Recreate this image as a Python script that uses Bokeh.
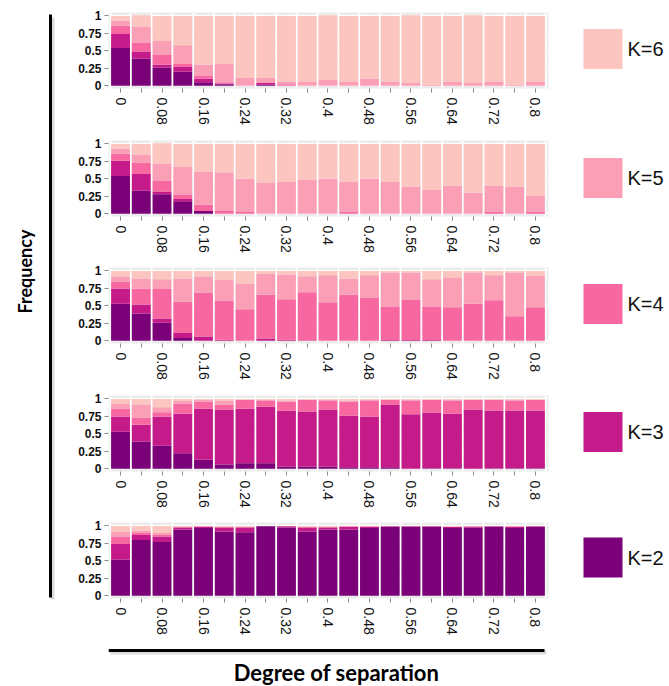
import math
from bokeh.plotting import figure
from bokeh.layouts import row, column
from bokeh.models import ColumnDataSource, Range1d, FixedTicker, NumeralTickFormatter
from bokeh.core.properties import value
from bokeh.embed import file_html
from bokeh.resources import INLINE

# ---------------- data ----------------
separation = ["0", "0.04", "0.08", "0.12", "0.16", "0.2", "0.24", "0.28", "0.32", "0.36", "0.4",
              "0.44", "0.48", "0.52", "0.56", "0.6", "0.64", "0.68", "0.72", "0.76", "0.8"]
k_labels = ["K=2", "K=3", "K=4", "K=5", "K=6"]
y_ticks = [0, 0.25, 0.5, 0.75, 1]

# panel 1 (top)
p1_k2 = [.54, .39, .26, .20, .05, .02, 0, .015, 0, 0, 0, 0, 0, 0, 0, 0, 0, 0, 0, 0, 0]
p1_k3 = [.20, .10, .04, .07, .05, .01, 0, .025, 0, 0, 0, 0, 0, 0, 0, 0, 0, 0, 0, 0, 0]
p1_k4 = [.12, .13, .14, .04, .04, .02, 0, 0, .02, 0, 0, 0, 0, 0, 0, 0, 0, 0, 0, 0, 0]
p1_k5 = [.07, .23, .20, .27, .16, .26, .11, .075, .04, .06, .09, .06, .10, .06, .04, .015, .06, .045, .06, .015, .06]
p1_k6 = [.07, .16, .36, .42, .70, .69, .89, .885, .94, .94, .92, .94, .90, .94, .97, .985, .94, .965, .94, .985, .94]

# panel 2
p2_k2 = [.54, .33, .28, .18, .04, 0, 0, 0, 0, 0, 0, 0, 0, 0, 0, 0, 0, 0, 0, 0, 0]
p2_k3 = [.22, .24, .04, .03, 0, 0, 0, 0, 0, 0, 0, 0, 0, 0, 0, 0, 0, 0, 0, 0, 0]
p2_k4 = [.10, .16, .15, .06, .09, .04, .025, 0, 0, 0, 0, .03, 0, 0, 0, 0, 0, 0, .03, 0, .03]
p2_k5 = [.07, .12, .25, .40, .47, .55, .475, .44, .46, .49, .50, .43, .50, .46, .385, .34, .40, .30, .37, .385, .225]
p2_k6 = [.07, .15, .29, .33, .40, .41, .50, .56, .54, .51, .50, .54, .50, .54, .615, .66, .60, .70, .60, .615, .745]

# panel 3
p3_k2 = [.53, .39, .26, .04, 0, 0, 0, 0, 0, 0, 0, 0, 0, 0, 0, 0, 0, 0, 0, 0, 0]
p3_k3 = [.22, .13, .06, .07, .06, .015, 0, .03, .015, .005, 0, 0, 0, .01, .01, .01, 0, 0, 0, 0, 0]
p3_k4 = [.10, .23, .42, .45, .63, .56, .45, .63, .58, .69, .55, .66, .62, .48, .58, .48, .48, .53, .58, .35, .48]
p3_k5 = [.07, .14, .14, .33, .23, .30, .37, .30, .35, .23, .39, .23, .32, .49, .39, .39, .42, .45, .36, .63, .45]
p3_k6 = [.08, .11, .12, .11, .08, .125, .18, .04, .055, .075, .06, .11, .06, .02, .02, .12, .10, .02, .06, .02, .07]

# panel 4
p4_k2 = [.53, .39, .33, .22, .13, .06, .08, .08, .03, .03, .03, .02, .02, .02, 0, .005, .005, 0, .005, .005, .005]
p4_k3 = [.22, .24, .42, .57, .73, .79, .78, .81, .80, .79, .82, .74, .73, .90, .78, .80, .785, .85, .83, .83, .83]
p4_k4 = [.11, .10, .06, .14, .10, .07, .13, .09, .13, .17, .13, .20, .23, .07, .20, .185, .19, .14, .155, .145, .155]
p4_k5 = [.07, .19, .07, .04, .03, .06, 0, .01, .02, 0, .01, .02, .01, 0, .01, 0, .01, 0, 0, .01, 0]
p4_k6 = [.07, .08, .12, .03, .01, .02, .01, .01, .02, .01, .01, .02, .01, .01, .01, .01, .01, .01, .01, .01, .01]

# panel 5 (bottom)
p5_k2 = [.52, .80, .77, .95, .97, .92, .91, .995, .98, .92, .95, .95, .97, .985, .985, .985, .97, .975, .985, .97, .985]
p5_k3 = [.22, .07, .08, .03, .02, .06, .07, .005, .015, .06, .03, .035, .02, .01, .01, .01, .015, .015, .01, .02, .01]
p5_k4 = [.11, .03, .02, .01, .005, .01, .01, 0, .005, .01, .01, .01, .005, 0, 0, 0, .005, .005, 0, .005, 0]
p5_k5 = [.07, .03, .03, .005, 0, 0, 0, 0, 0, 0, 0, 0, 0, 0, 0, 0, 0, 0, 0, 0, 0]
p5_k6 = [.08, .07, .10, .005, .005, .01, .01, 0, 0, .01, .01, .005, .005, .005, .005, .005, .01, .005, .005, .005, .005]

panels = [
    [p1_k2, p1_k3, p1_k4, p1_k5, p1_k6],
    [p2_k2, p2_k3, p2_k4, p2_k5, p2_k6],
    [p3_k2, p3_k3, p3_k4, p3_k5, p3_k6],
    [p4_k2, p4_k3, p4_k4, p4_k5, p4_k6],
    [p5_k2, p5_k3, p5_k4, p5_k5, p5_k6],
]

# ---------------- style / layout ----------------
colors = ["#7a0177", "#c51b8a", "#f768a1", "#fa9fb5", "#fcc5c0"]
keys = ["k2", "k3", "k4", "k5", "k6"]
panel_tops = [12, 4, 4, 4, 4]
panel_bottoms = [48, 47, 48, 47, 47]
BOTTOM_H = 40
TOTAL_H = sum(panel_tops) + 5 * 76 + sum(panel_bottoms) + BOTTOM_H   # 685
FRAME_L, FRAME_W = 108, 440   # page x of the panels' frame


def make_panel(vals, border_top, border_bottom):
    xs = list(range(len(separation)))
    data = {"x": xs}
    for k, v in zip(keys, vals):
        data[k] = v
    src = ColumnDataSource(data)
    p = figure(frame_width=FRAME_W, frame_height=76,
               x_range=Range1d(-0.58, len(separation) - 0.37),
               y_range=Range1d(-0.04, 1.05),
               output_backend="svg", toolbar_location=None,
               min_border_left=40, min_border_right=5,
               min_border_top=border_top, min_border_bottom=border_bottom)
    p.background_fill_color = "#ebebeb"
    p.border_fill_color = "white"
    p.outline_line_color = None
    p.vbar_stack(keys, x="x", width=0.91, color=colors, source=src, line_color=None)

    # grids
    p.ygrid.ticker = FixedTicker(ticks=y_ticks)
    p.ygrid.grid_line_color = "white"
    p.ygrid.grid_line_width = 1
    p.xgrid.ticker = FixedTicker(ticks=[i - 0.5 for i in range(len(separation) + 1)])
    p.xgrid.grid_line_color = "white"
    p.xgrid.grid_line_width = 2

    # x axis
    xa = p.xaxis[0]
    xa.ticker = FixedTicker(ticks=xs)
    xa.major_label_overrides = {i: (separation[i] if i % 2 == 0 else "") for i in xs}
    xa.major_label_orientation = "vertical"
    xa.axis_line_color = None
    xa.major_tick_line_color = "#8a8a8a"
    xa.major_tick_out = 4
    xa.major_tick_in = 0
    xa.minor_tick_line_color = None
    xa.major_label_text_font = "Liberation Sans"
    xa.major_label_text_font_size = "14px"
    xa.major_label_text_color = "#111111"
    xa.major_label_standoff = 5

    # y axis
    ya = p.yaxis[0]
    ya.ticker = FixedTicker(ticks=y_ticks)
    ya.formatter = NumeralTickFormatter(format="0.[00]")
    ya.axis_line_color = None
    ya.major_tick_line_color = "#8a8a8a"
    ya.major_tick_out = 4
    ya.major_tick_in = 0
    ya.minor_tick_line_color = None
    ya.major_label_text_font = "Liberation Sans"
    ya.major_label_text_font_style = "bold"
    ya.major_label_text_font_size = "12px"
    ya.major_label_text_color = "#111111"
    ya.major_label_standoff = 3
    return p


def blank(w, h):
    f = figure(width=w, height=h, x_range=Range1d(0, w), y_range=Range1d(0, h),
               output_backend="svg", toolbar_location=None, min_border=0,
               x_axis_type=None, y_axis_type=None)
    f.grid.visible = False
    f.outline_line_color = None
    f.background_fill_color = "white"
    f.border_fill_color = "white"
    return f


panel_figs = [make_panel(v, t, b) for v, t, b in zip(panels, panel_tops, panel_bottoms)]

# left strip: axis title + vertical rule (y measured from the top)
left = blank(68, TOTAL_H)
left.segment(x0=[52], y0=[TOTAL_H - 599], x1=[52], y1=[TOTAL_H - 17], line_color="#999999",
             line_width=4, line_alpha=0.35)
left.segment(x0=[50], y0=[TOTAL_H - 597], x1=[50], y1=[TOTAL_H - 14], line_color="black", line_width=3)
left.text(x=[24], y=[TOTAL_H - 271], text=["Frequency"], angle=math.pi / 2,
          text_align="center", text_baseline="middle", text_font=value("Lato"),
          text_font_style="bold", text_font_size="18px", text_color="black")

# bottom strip: rule + x title; frame aligned with the panels, x in page pixels
bottom = figure(frame_width=FRAME_W, frame_height=BOTTOM_H,
                x_range=Range1d(FRAME_L, FRAME_L + FRAME_W), y_range=Range1d(0, BOTTOM_H),
                output_backend="svg", toolbar_location=None,
                min_border_left=40, min_border_right=5, min_border_top=0, min_border_bottom=0,
                x_axis_type=None, y_axis_type=None)
bottom.grid.visible = False
bottom.outline_line_color = None
bottom.background_fill_color = "white"
bottom.border_fill_color = "white"
bottom.segment(x0=[110], y0=[BOTTOM_H - 7], x1=[546], y1=[BOTTOM_H - 7], line_color="#999999",
               line_width=4, line_alpha=0.35)
bottom.segment(x0=[108], y0=[BOTTOM_H - 5], x1=[544], y1=[BOTTOM_H - 5], line_color="black", line_width=3)
bottom.text(x=[336], y=[0], text=["Degree of separation"], text_align="center",
            text_baseline="bottom", text_font=value("Lato"), text_font_style="bold",
            text_font_size="22px", text_color="black")

# right strip: legend
right = blank(115, TOTAL_H)
legend_centers = [557, 431.5, 303.5, 177.5, 48.5]  # from top, K=2 .. K=6
right.rect(x=[49.5] * 5, y=[TOTAL_H - c for c in legend_centers], width=39, height=40,
           fill_color=colors, line_color=None)
right.text(x=[74] * 5, y=[TOTAL_H - c for c in legend_centers], text=k_labels,
           text_align="left", text_baseline="middle", text_font=value("Liberation Sans"),
           text_font_size="20px", text_color="#111111")

layout = row(left, column(*panel_figs, bottom), right)

open("out.html", "w").write(file_html(layout, INLINE))
